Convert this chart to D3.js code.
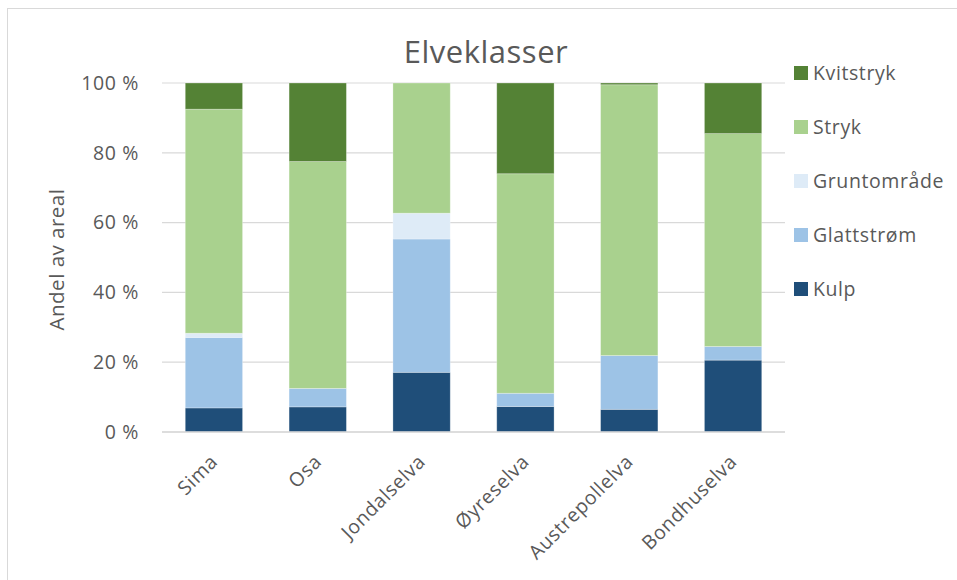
<!DOCTYPE html>
<html>
<head>
<meta charset="utf-8">
<script src="https://cdn.jsdelivr.net/npm/d3@7"></script>
<style>
  html, body { margin: 0; padding: 0; background: #fff; }
  svg { display: block; font-family: "Open Sans", Lato, sans-serif; }
</style>
</head>
<body>
<svg id="chart" width="957" height="580"></svg>
<script>
// Rivers and area share per river class (percent)
const rivers = ["Sima", "Osa", "Jondalselva", "Øyreselva", "Austrepollelva", "Bondhuselva"];
const classes = ["Kulp", "Glattstrøm", "Gruntområde", "Stryk", "Kvitstryk"];
const kulp        = [6.9, 7.2, 17.1, 7.3, 6.5, 20.6];
const glattstrom  = [20.2, 5.3, 38.2, 3.8, 15.4, 3.9];
const gruntomrade = [1.2, 0.0, 7.4, 0.0, 0.0, 0.0];
const stryk       = [64.2, 65.0, 37.3, 62.9, 77.6, 61.0];
const kvitstryk   = [7.5, 22.5, 0.0, 26.0, 0.5, 14.5];
const yTicks = [0, 20, 40, 60, 80, 100];
const colors = ["#1F4E79", "#9DC3E6", "#DEEBF7", "#A9D18E", "#548235"];

const series = [kulp, glattstrom, gruntomrade, stryk, kvitstryk];
const rows = rivers.map((r, i) => {
  const o = { river: r };
  classes.forEach((c, k) => { o[c] = series[k][i]; });
  return o;
});

const svg = d3.select("#chart");
const FONT = "'Open Sans', Lato, sans-serif";
const TEXT = "#595959";

// outer chart frame
svg.append("rect")
  .attr("x", 7.5).attr("y", 8.5).attr("width", 1000).attr("height", 1000)
  .attr("fill", "none").attr("stroke", "#d9d9d9").attr("stroke-width", 1);

const plot = { left: 162, right: 785, top: 83, bottom: 432 };

const x = d3.scaleBand()
  .domain(rivers)
  .range([plot.left, plot.right])
  .paddingInner(0.448)
  .paddingOuter(0.224);

const y = d3.scaleLinear().domain([0, 100]).range([plot.bottom, plot.top]);

// gridlines
svg.append("g")
  .selectAll("line")
  .data(yTicks)
  .join("line")
  .attr("x1", plot.left).attr("x2", plot.right)
  .attr("y1", d => y(d)).attr("y2", d => y(d))
  .attr("stroke", "#d9d9d9").attr("stroke-width", 1.2);

// y axis labels
const yAxis = d3.axisLeft(y).tickValues(yTicks).tickSize(0).tickPadding(0)
  .tickFormat(d => d + " %");
svg.append("g")
  .attr("transform", `translate(${plot.left - 23},0)`)
  .call(yAxis)
  .call(g => g.select(".domain").remove())
  .call(g => g.selectAll("text")
    .attr("fill", TEXT).attr("font-size", 19.5).attr("font-family", FONT)
    .attr("letter-spacing", 0.6));

// stacked bars
const stack = d3.stack().keys(classes);
const stacked = stack(rows);

svg.append("g")
  .selectAll("g")
  .data(stacked)
  .join("g")
  .attr("fill", (d, i) => colors[i])
  .selectAll("rect")
  .data(d => d.filter(p => p[1] - p[0] > 0))
  .join("rect")
  .attr("x", d => x(d.data.river))
  .attr("width", x.bandwidth())
  .attr("y", d => y(d[1]))
  .attr("height", d => y(d[0]) - y(d[1]))
  .attr("stroke", "#ffffff").attr("stroke-opacity", 0.35).attr("stroke-width", 0.8);

// baseline
svg.append("line")
  .attr("x1", plot.left).attr("x2", plot.right)
  .attr("y1", y(0)).attr("y2", y(0))
  .attr("stroke", "#d9d9d9").attr("stroke-width", 1.4);

// x axis labels
const xAxis = d3.axisBottom(x).tickSize(0).tickPadding(0);
svg.append("g")
  .attr("transform", `translate(0,${plot.bottom})`)
  .call(xAxis)
  .call(g => g.select(".domain").remove())
  .call(g => g.selectAll("text")
    .attr("fill", TEXT).attr("font-size", 19.5).attr("font-family", FONT)
    .attr("letter-spacing", 0.6)
    .attr("text-anchor", "end")
    .attr("dy", 0)
    .attr("transform", "translate(5,31) rotate(-45)"));

// title
svg.append("text")
  .attr("x", 486).attr("y", 63)
  .attr("text-anchor", "middle")
  .attr("fill", TEXT).attr("font-size", 31).attr("font-family", FONT)
  .attr("letter-spacing", 0.5)
  .text("Elveklasser");

// y axis title
svg.append("text")
  .attr("transform", `translate(64,${(plot.top + plot.bottom) / 2 + 2}) rotate(-90)`)
  .attr("text-anchor", "middle")
  .attr("fill", TEXT).attr("font-size", 20.5).attr("font-family", FONT)
  .attr("letter-spacing", 0.5)
  .text("Andel av areal");

// legend (top to bottom: Kvitstryk ... Kulp)
const legendOrder = classes.slice().reverse();
const legend = svg.append("g")
  .selectAll("g")
  .data(legendOrder)
  .join("g")
  .attr("transform", (d, i) => `translate(794,${73 + i * 54})`);
legend.append("rect")
  .attr("x", 0).attr("y", -7).attr("width", 14).attr("height", 14)
  .attr("fill", d => colors[classes.indexOf(d)]);
legend.append("text")
  .attr("x", 19).attr("y", 0).attr("dy", "0.35em")
  .attr("fill", TEXT).attr("font-size", 19.5).attr("font-family", FONT)
  .attr("letter-spacing", 0.6)
  .text(d => d);
</script>
</body>
</html>
